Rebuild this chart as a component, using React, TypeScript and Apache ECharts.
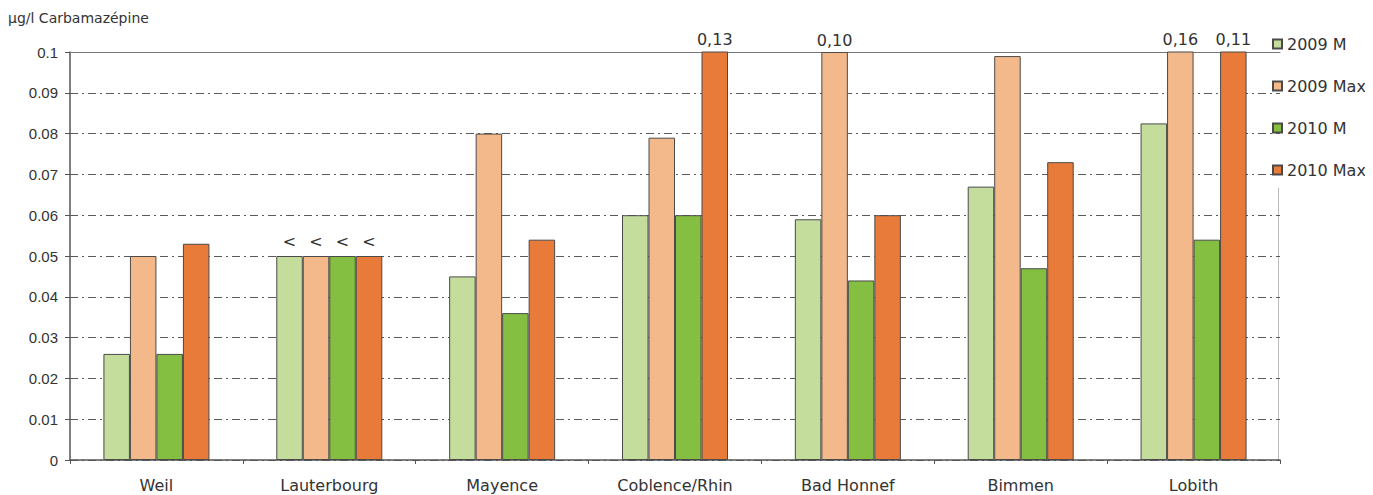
import React, { useEffect, useRef } from "react";
import * as echarts from "echarts";

// Carbamazepine concentrations along the Rhine (µg/l)
const categories = ["Weil", "Lauterbourg", "Mayence", "Coblence/Rhin", "Bad Honnef", "Bimmen", "Lobith"];
const m2009 = [0.026, 0.05, 0.045, 0.06, 0.059, 0.067, 0.0825];
const max2009 = [0.05, 0.05, 0.08, 0.079, 0.1, 0.099, 0.16];
const m2010 = [0.026, 0.05, 0.036, 0.06, 0.044, 0.047, 0.054];
const max2010 = [0.053, 0.05, 0.054, 0.13, 0.06, 0.073, 0.11];
// stations where every value is below the limit of quantification
const belowLimit = ["Lauterbourg"];
const seriesNames = ["2009 M", "2009 Max", "2010 M", "2010 Max"];
const seriesColors = ["#c4dd9c", "#f4b98b", "#85bf42", "#e97b3a"];
const yMax = 0.1;
const yStep = 0.01;

const WIDE = "DejaVu Sans, Verdana, sans-serif";
const NARROW = "Liberation Sans, Arial, sans-serif";
const TEXT = "#333333";

function buildData(values: number[]) {
  return values.map((v, i) => {
    if (belowLimit.includes(categories[i])) {
      return { value: v, label: { show: true, formatter: "<", distance: 7 } };
    }
    if (v >= yMax) {
      return {
        value: v,
        label: { show: true, formatter: v.toFixed(2).replace(".", ","), distance: 4 },
      };
    }
    return v;
  });
}

export default function App() {
  const ref = useRef<HTMLDivElement>(null);

  useEffect(() => {
    if (!ref.current) return;
    const chart = echarts.init(ref.current, null, { renderer: "svg" });
    const all = [m2009, max2009, m2010, max2010];

    chart.setOption({
      animation: false,
      backgroundColor: "#ffffff",
      textStyle: { fontFamily: WIDE },
      title: {
        text: "µg/l Carbamazépine",
        left: 0,
        top: 3,
        padding: 0,
        textStyle: { fontFamily: WIDE, fontSize: 14, fontWeight: "normal", color: TEXT },
      },
      legend: {
        orient: "vertical",
        left: 1264,
        top: 28,
        padding: 0,
        itemWidth: 9,
        itemHeight: 9,
        itemGap: 26,
        icon: "rect",
        textStyle: { fontFamily: WIDE, fontSize: 16, color: TEXT },
        data: seriesNames,
      },
      grid: { left: 62, right: 85, top: 44, bottom: 35 },
      xAxis: [
        {
          type: "category",
          data: categories,
          axisLine: { lineStyle: { color: "#555555", width: 1.5 } },
          axisTick: { show: true, length: 4, lineStyle: { color: "#555555" } },
          axisLabel: { fontFamily: WIDE, fontSize: 16, color: TEXT, margin: 17 },
          splitLine: { show: false },
        },
        {
          type: "category",
          position: "top",
          data: categories,
          axisLine: { lineStyle: { color: "#777777", width: 1 } },
          axisTick: { show: false },
          axisLabel: { show: false },
        },
      ],
      yAxis: {
        type: "value",
        min: 0,
        max: yMax,
        interval: yStep,
        axisLine: { show: true, lineStyle: { color: "#555555", width: 1.5 } },
        axisTick: { show: true, length: 5, lineStyle: { color: "#555555" } },
        axisLabel: {
          fontFamily: NARROW,
          fontSize: 15,
          color: TEXT,
          margin: 12,
          formatter: (v: number) => (v === 0 ? "0" : String(+v.toFixed(2))),
        },
        splitLine: {
          show: true,
          lineStyle: { color: "#5a5a5a", width: 1, type: [8, 4, 2, 4] },
        },
      },
      graphic: [
        {
          type: "line",
          shape: { x1: 1270.5, y1: 180, x2: 1270.5, y2: 452 },
          style: { stroke: "#bbbbbb", lineWidth: 1 },
        },
      ],
      series: all.map((vals, k) => ({
        name: seriesNames[k],
        type: "bar",
        data: buildData(vals),
        barWidth: 26.5,
        barGap: "0%",
        itemStyle: { color: seriesColors[k], borderColor: "#4a4a4a", borderWidth: 1 },
        label: {
          show: false,
          position: "top",
          fontFamily: WIDE,
          fontSize: 16,
          color: TEXT,
        },
      })),
    });

    return () => chart.dispose();
  }, []);

  return <div ref={ref} style={{ width: 1357, height: 487 }} />;
}
